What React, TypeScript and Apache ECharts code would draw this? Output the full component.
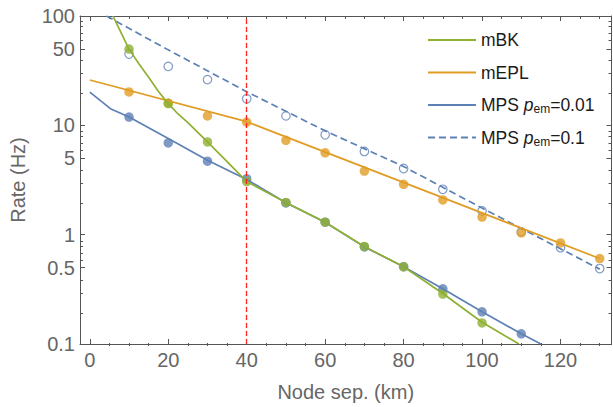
import React, { useEffect, useRef } from "react";
import * as echarts from "echarts";

// ---- data ----
const xPts = [10, 20, 30, 40, 50, 60, 70, 80, 90, 100, 110, 120, 130];
const mbkPts = [49.8, 15.8, 7.05, 3.06, 1.97, 1.3, 0.78, 0.508, 0.286, 0.156];
const meplPts = [20.2, 16.0, 12.2, 10.7, 7.3, 5.6, 3.82, 2.89, 2.08, 1.45, 1.04, 0.84, 0.605];
const mps01Pts = [11.9, 6.9, 4.7, 3.25, 1.95, 1.3, 0.773, 0.51, 0.32, 0.197, 0.124];
const mps1Pts = [44.9, 34.6, 26.2, 17.5, 12.2, 8.2, 5.77, 4.03, 2.6, 1.65, 1.06, 0.76, 0.49];

const mbkCurveX = [5.9, 7, 8, 9, 10, 12.5, 15, 17.5, 20, 22.5, 25, 30, 35, 40, 50, 60, 70, 80, 90, 100, 109.4];
const mbkCurveY = [100, 83, 70, 59, 49.8, 36.6, 27.5, 20.4, 15.8, 12.7, 10.6, 7.05, 4.65, 3.06, 1.97, 1.3, 0.78, 0.508, 0.29, 0.158, 0.1];
const meplCurveX = [0, 40, 130];
const meplCurveY = [26, 10.8, 0.605];
const mps01CurveX = [0, 5.26, 10, 20, 30, 40, 50, 60, 70, 80, 90, 100, 110, 115];
const mps01CurveY = [20.1, 14.2, 11.9, 7.57, 4.8, 3.2, 1.96, 1.3, 0.773, 0.51, 0.32, 0.197, 0.124, 0.1];
const mps1CurveX = [4.24, 20, 40, 60, 80, 100, 130];
const mps1CurveY = [100, 49, 20.3, 8.9, 4.2, 1.75, 0.484];

const xMajorTicks = [0, 20, 40, 60, 80, 100, 120];
const xMinorTicks = [5, 10, 15, 25, 30, 35, 45, 50, 55, 65, 70, 75, 85, 90, 95, 105, 110, 115, 125, 130];
const yMajorTicks = [0.1, 0.5, 1, 5, 10, 50, 100];
const yMinorTicks = [0.2, 0.3, 0.4, 0.6, 0.7, 0.8, 0.9, 2, 3, 4, 6, 7, 8, 9, 20, 30, 40, 60, 70, 80, 90];
const cutX = 40;

const names = ["mBK", "mEPL", "MPS pem=0.01", "MPS pem=0.1"];

const BLUE = "#5E81B5";
const ORANGE = "#E19C24";
const GREEN = "#8FB032";
const FRAME = "#555555";
const LABEL = "#666666";
const FONT = "'Liberation Sans', Arial, sans-serif";

const zip = (xs: number[], ys: number[]) => ys.map((y, i) => [xs[i], y]);

export default function App() {
  const ref = useRef<HTMLDivElement>(null);
  useEffect(() => {
    if (!ref.current) return;
    const chart = echarts.init(ref.current, null, { renderer: "svg" });
    const gridPos = { left: 80, top: 16, right: 1.5, bottom: 61 };
    const xBase = (grid: number, pos: string, ticks: number[], len: number, labels: boolean, extra: any = {}) => ({
      type: "value",
      gridIndex: grid,
      position: pos,
      min: -2.5,
      max: 133,
      splitLine: { show: false },
      axisLine: { show: grid === 0, onZero: false, lineStyle: { color: FRAME, width: 1 } },
      axisTick: { show: true, inside: true, length: len, customValues: ticks, lineStyle: { color: FRAME } },
      axisLabel: labels
        ? { show: true, customValues: xMajorTicks, fontSize: 20, color: LABEL, fontFamily: FONT, margin: 6 }
        : { show: false },
      ...extra,
    });
    const fmt = (v: number) => String(parseFloat(Number(v).toPrecision(3)));
    const yBase = (grid: number, pos: string, ticks: number[], len: number, labels: boolean, extra: any = {}) => ({
      type: "log",
      logBase: 10,
      gridIndex: grid,
      position: pos,
      min: 0.1,
      max: 100,
      splitLine: { show: false },
      minorTick: { show: false },
      minorSplitLine: { show: false },
      axisLine: { show: grid === 0, onZero: false, lineStyle: { color: FRAME, width: 1 } },
      axisTick: { show: true, inside: true, length: len, customValues: ticks, lineStyle: { color: FRAME } },
      axisLabel: labels
        ? { show: true, customValues: yMajorTicks, fontSize: 20, color: LABEL, fontFamily: FONT, margin: 5, formatter: fmt }
        : { show: false },
      ...extra,
    });

    const lineSeries = (name: string, xs: number[], ys: number[], color: string, dashed = false) => ({
      type: "line",
      name,
      xAxisIndex: 0,
      yAxisIndex: 0,
      data: zip(xs, ys),
      symbol: "none",
      showSymbol: false,
      lineStyle: { color, width: 1.7, type: dashed ? [7, 4] : "solid" },
      itemStyle: { color },
    });
    const pointSeries = (name: string, ys: number[], color: string, open = false) => ({
      type: "scatter",
      name,
      xAxisIndex: 0,
      yAxisIndex: 0,
      data: zip(xPts, ys),
      symbol: "circle",
      symbolSize: open ? 8.5 : 9.5,
      itemStyle: open
        ? { color: "#ffffff", borderColor: color, borderWidth: 1.2 }
        : { color, borderColor: color, borderWidth: 0 },
    });

    const richT = { fontSize: 17.5, color: "#1a1a1a", fontFamily: FONT, lineHeight: 20 };
    chart.setOption({
      animation: false,
      backgroundColor: "#ffffff",
      grid: [gridPos, gridPos],
      xAxis: [
        xBase(0, "bottom", xMajorTicks, 5, true, {
          name: "Node sep. (km)",
          nameLocation: "middle",
          nameGap: 38,
          nameTextStyle: { fontSize: 20, color: LABEL, fontFamily: FONT },
        }),
        xBase(0, "top", xMajorTicks, 5, false),
        xBase(1, "bottom", xMinorTicks, 3, false),
        xBase(1, "top", xMinorTicks, 3, false),
      ],
      yAxis: [
        yBase(0, "left", yMajorTicks, 5, true, {
          name: "Rate (Hz)",
          nameLocation: "middle",
          nameGap: 52,
          nameTextStyle: { fontSize: 20, color: LABEL, fontFamily: FONT },
        }),
        yBase(0, "right", yMajorTicks, 5, false),
        yBase(1, "left", yMinorTicks, 3, false),
        yBase(1, "right", yMinorTicks, 3, false),
      ],
      legend: {
        show: true,
        orient: "vertical",
        left: 422,
        top: 25,
        itemWidth: 48,
        itemHeight: 14,
        itemGap: 12.5,
        itemStyle: { opacity: 0 },
        data: names,
        textStyle: { ...richT, rich: {
          t: richT,
          i: { ...richT, fontStyle: "italic" },
          s: { fontSize: 12, color: "#1a1a1a", fontFamily: FONT, lineHeight: 12, verticalAlign: "bottom" },
        } },
        formatter: (n: string) => {
          if (n === names[2]) return "{t|MPS }{i|p}{s|em}{t|=0.01}";
          if (n === names[3]) return "{t|MPS }{i|p}{s|em}{t|=0.1}";
          return "{t|" + n + "}";
        },
      },
      series: [
        lineSeries(names[3], mps1CurveX, mps1CurveY, BLUE, true),
        pointSeries("MPS 0.1 data", mps1Pts, BLUE, true),
        lineSeries(names[2], mps01CurveX, mps01CurveY, BLUE),
        pointSeries("MPS 0.01 data", mps01Pts, BLUE),
        lineSeries(names[1], meplCurveX, meplCurveY, ORANGE),
        pointSeries("mEPL data", meplPts, ORANGE),
        lineSeries(names[0], mbkCurveX, mbkCurveY, GREEN),
        pointSeries("mBK data", mbkPts, GREEN),
        {
          type: "line",
          name: "cut",
          xAxisIndex: 0,
          yAxisIndex: 0,
          data: [],
          z: 10,
          markLine: {
            silent: true,
            symbol: ["none", "none"],
            label: { show: false },
            lineStyle: { color: "#ff2020", width: 1.3, type: [5, 3] },
            data: [{ xAxis: cutX }],
          },
        },
      ],
    });
    return () => chart.dispose();
  }, []);
  return (
    <div
      ref={ref}
      style={{ position: "absolute", left: 0, top: 0, width: 613, height: 407, background: "#fff" }}
    />
  );
}
